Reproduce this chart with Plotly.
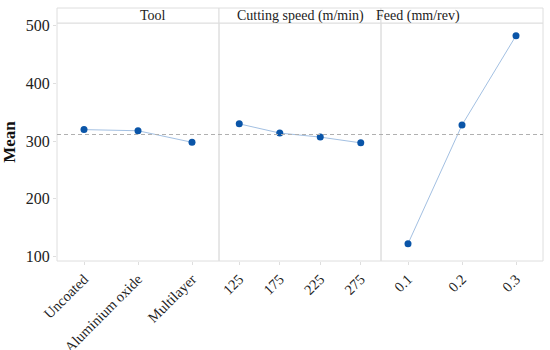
import plotly.graph_objects as go
from plotly.subplots import make_subplots

panel_titles = ["Tool", "Cutting speed (m/min)", "Feed (mm/rev)"]
tool_levels = ["Uncoated", "Aluminium oxide", "Multilayer"]
tool_means = [320, 318, 298]
speed_levels = ["125", "175", "225", "275"]
speed_means = [330, 314, 307, 297]
feed_levels = ["0.1", "0.2", "0.3"]
feed_means = [122, 328, 483]
grand_mean = 311.5
y_ticks = [100, 200, 300, 400, 500]

FONT = "Liberation Serif, Times New Roman, serif"
GRID = "#dedede"
LINE_C = "#a3c0e2"
MARK_C = "#0a55a8"

fig = make_subplots(rows=1, cols=3, shared_yaxes=True, horizontal_spacing=0)

for i, (lv, mv) in enumerate([(tool_levels, tool_means), (speed_levels, speed_means), (feed_levels, feed_means)]):
    fig.add_trace(go.Scatter(x=lv, y=mv, mode="lines+markers",
                             line=dict(color=LINE_C, width=1),
                             marker=dict(color=MARK_C, size=7),
                             showlegend=False), row=1, col=i + 1)
    fig.update_xaxes(type="category", range=[-0.5, len(lv) - 0.5],
                     tickangle=-45, tickfont=dict(family=FONT, size=14.5, color="#222"),
                     showline=False, automargin=False, ticklabeloverflow="allow",
                     ticks="outside", ticklen=3, tickcolor=GRID,
                     showgrid=False, zeroline=False, row=1, col=i + 1)
    fig.update_yaxes(range=[92, 505], showline=False, automargin=False,
                     showgrid=False, zeroline=False, row=1, col=i + 1)

fig.update_yaxes(tickvals=y_ticks, ticks="outside", ticklen=3, tickcolor=GRID,
                 tickfont=dict(family=FONT, size=16, color="#222"),
                 title=dict(text="<b>Mean</b>", font=dict(family=FONT, size=17, color="#111"), standoff=7),
                 row=1, col=1)

# grand mean reference line
fig.add_shape(type="line", xref="paper", yref="y", x0=0, x1=1, y0=grand_mean, y1=grand_mean,
              line=dict(color="#b0b0b0", width=1, dash="4px,3px"))

# panel frames and header strips
hdr = 15 / 238
bounds = [0, 1 / 3, 2 / 3, 1]
for i, t in enumerate(panel_titles):
    fig.add_shape(type="rect", xref="paper", yref="paper", x0=bounds[i], x1=bounds[i + 1],
                  y0=0, y1=1, line=dict(color=GRID, width=1), layer="below")
    fig.add_shape(type="rect", xref="paper", yref="paper", x0=bounds[i], x1=bounds[i + 1],
                  y0=1, y1=1 + hdr, line=dict(color=GRID, width=1), fillcolor="white")
    fig.add_annotation(xref="paper", yref="paper", x=(bounds[i] + bounds[i + 1]) / 2,
                       y=1 + hdr / 2, text=t, showarrow=False,
                       font=dict(family=FONT, size=14, color="#222"), yanchor="middle")

fig.update_layout(width=550, height=350, margin=dict(l=57, r=7, t=23, b=89),
                  plot_bgcolor="white", paper_bgcolor="white")
fig.write_html("out.html", config={"displayModeBar": False},
               post_script="document.body.style.margin='0';")
